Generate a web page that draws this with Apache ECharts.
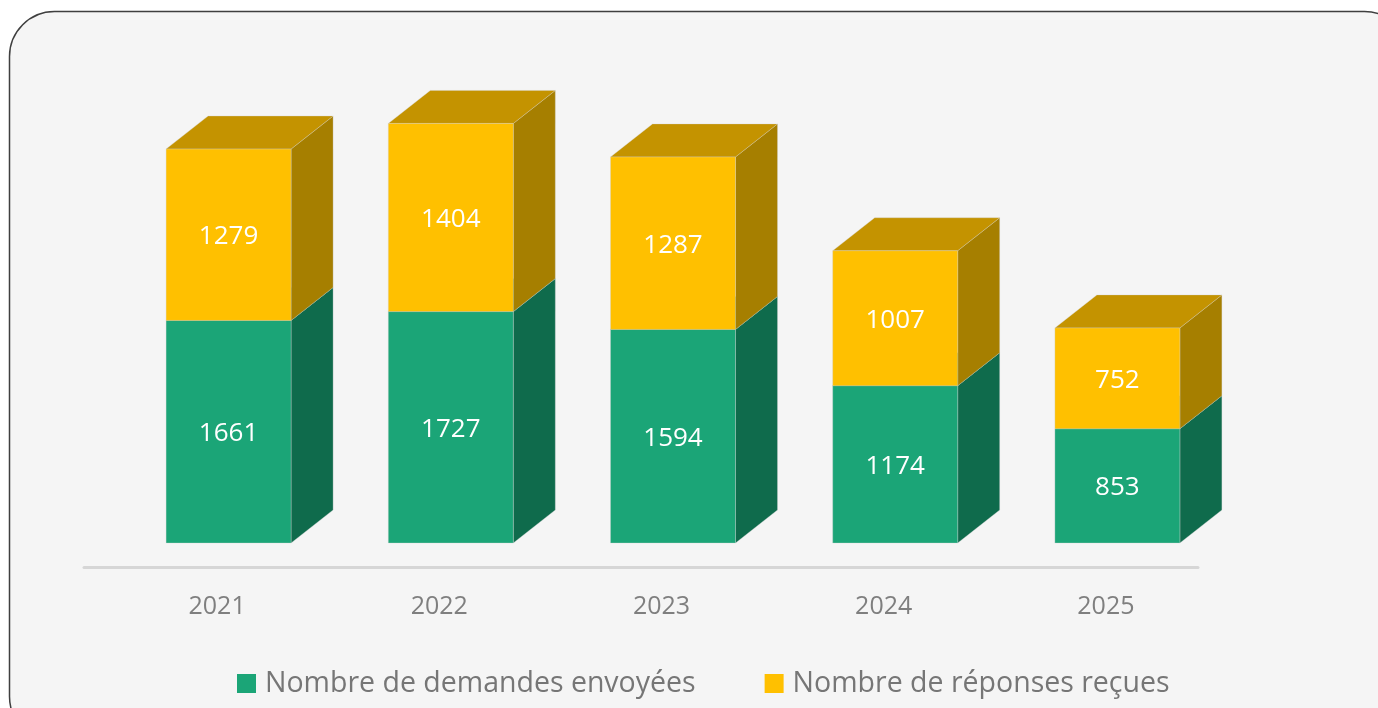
<!DOCTYPE html>
<html>
<head>
<meta charset="utf-8">
<script src="https://cdn.jsdelivr.net/npm/echarts@6/dist/echarts.min.js"></script>
<style>
html,body{margin:0;padding:0;background:#ffffff;}
#c{width:1378px;height:708px;}
</style>
</head>
<body>
<div id="c"></div>
<script>
const years = ['2021', '2022', '2023', '2024', '2025'];
const sent = [1661, 1727, 1594, 1174, 853];
const received = [1279, 1404, 1287, 1007, 752];
const seriesNames = ['Nombre de demandes envoyées', 'Nombre de réponses reçues'];

const FONT = 'Open Sans';
const palette = {
  green: { front: '#1BA577', top: '#15855F', side: '#0F6B4C' },
  yellow: { front: '#FFC000', top: '#C49300', side: '#A67F00' }
};

function makeRender(col) {
  return function (params, api) {
    const cat = api.value(0), lo = api.value(1), hi = api.value(2);
    const pLo = api.coord([cat, lo]);
    const pHi = api.coord([cat, hi]);
    const band = api.size([1, 0])[0];
    const w = band * 0.5625;
    const x0 = pLo[0] - band * 0.2295;
    const x1 = x0 + w;
    const dx = band * 0.189;
    const dy = -dx * 0.786;
    const yb = pLo[1], yt = pHi[1];
    const edge = 'rgba(210,210,210,0.55)';
    return {
      type: 'group',
      children: [
        { type: 'polygon', shape: { points: [[x1, yt], [x1 + dx, yt + dy], [x1 + dx, yb + dy], [x1, yb]] },
          style: { fill: col.side, stroke: edge, lineWidth: 0.6 } },
        { type: 'polygon', shape: { points: [[x0, yt], [x0 + dx, yt + dy], [x1 + dx, yt + dy], [x1, yt]] },
          style: { fill: col.top, stroke: edge, lineWidth: 0.6 } },
        { type: 'rect', shape: { x: x0, y: yt, width: w, height: yb - yt },
          style: { fill: col.front, stroke: edge, lineWidth: 0.6 } },
        { type: 'text', style: { text: String(hi - lo), x: (x0 + x1) / 2, y: (yb + yt) / 2 + 2,
          fill: '#ffffff', fontSize: 26, fontFamily: FONT, align: 'center', verticalAlign: 'middle' } }
      ]
    };
  };
}

const greenData = years.map((y, i) => [i, 0, sent[i]]);
const yellowData = years.map((y, i) => [i, sent[i], sent[i] + received[i]]);

const chart = echarts.init(document.getElementById('c'), null, { renderer: 'canvas' });
chart.setOption({
  backgroundColor: 'transparent',
  animation: false,
  graphic: [{
    type: 'rect', z: -10, silent: true,
    shape: { x: 9.5, y: 11.5, width: 1400, height: 730, r: 45 },
    style: { fill: '#f5f5f5', stroke: '#3f3f3f', lineWidth: 1.5 }
  }],
  grid: [
    { left: 106, right: 161, bottom: 165, top: 74 },
    { left: 84, right: 180, bottom: 141, top: 74 }
  ],
  xAxis: [
    { type: 'category', gridIndex: 0, data: years,
      axisLine: { show: false }, axisTick: { show: false },
      axisLabel: { color: '#7f7f7f', fontSize: 25, fontFamily: FONT, margin: 51 } },
    { type: 'category', gridIndex: 1, data: years,
      axisLine: { show: true, lineStyle: { color: '#d6d6d6', width: 3 } },
      axisTick: { show: false }, axisLabel: { show: false } }
  ],
  yAxis: [
    { type: 'value', gridIndex: 0, min: 0, max: 3500, show: false, splitLine: { show: false } },
    { type: 'value', gridIndex: 1, min: 0, max: 3500, show: false, splitLine: { show: false } }
  ],
  legend: {
    data: seriesNames,
    left: 237, top: 669, padding: 0,
    icon: 'rect', itemWidth: 19, itemHeight: 19, itemGap: 69,
    textStyle: { color: '#767676', fontSize: 28.5, fontFamily: FONT, padding: [0, 0, 0, 4] }
  },
  series: [
    { type: 'custom', name: seriesNames[0], xAxisIndex: 0, yAxisIndex: 0,
      itemStyle: { color: palette.green.front },
      encode: { x: 0, y: [1, 2] }, renderItem: makeRender(palette.green), data: greenData },
    { type: 'custom', name: seriesNames[1], xAxisIndex: 0, yAxisIndex: 0,
      itemStyle: { color: palette.yellow.front },
      encode: { x: 0, y: [1, 2] }, renderItem: makeRender(palette.yellow), data: yellowData }
  ]
});
</script>
</body>
</html>
